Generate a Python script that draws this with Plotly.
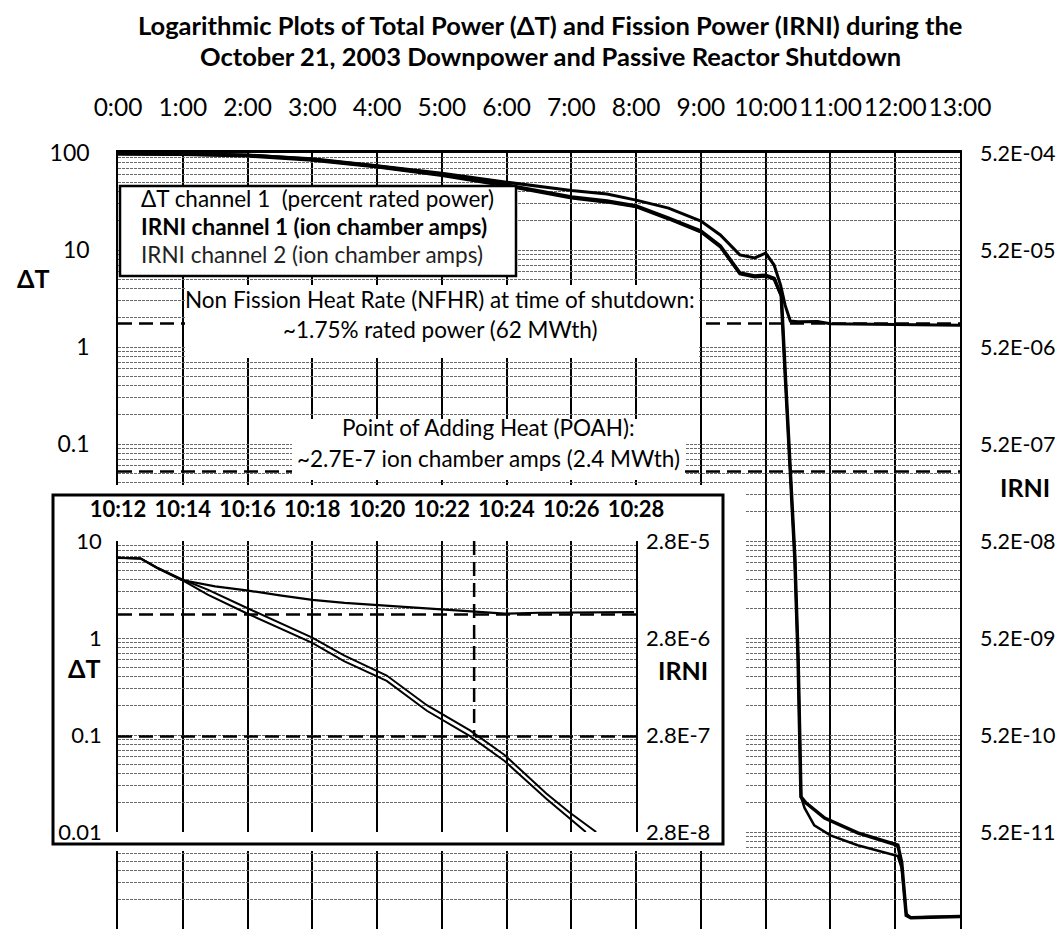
import math
import plotly.graph_objects as go

W, H = 1064, 931
FONT = "Lato, 'Open Sans', sans-serif"

# ---------------- data ----------------
title_lines = ["Logarithmic Plots of Total Power (ΔT) and Fission Power (IRNI) during the",
               "October 21, 2003 Downpower and Passive Reactor Shutdown"]

hour_ticks = list(range(0, 14))
hour_labels = [f"{h}:00" for h in hour_ticks]

# Delta-T channel 1 (percent rated power), time in hours after 0:00
dt_hours = [0.0, 1.0, 2.0, 3.0, 4.0, 5.0, 6.0, 7.0, 7.55, 8.0, 8.5, 9.0, 9.3, 9.6, 9.83,
            10.0, 10.13, 10.23, 10.3, 10.38, 10.5, 10.8, 11.0, 11.5, 12.0, 12.5, 13.0]
dt_pct = [99, 98.5, 95, 87, 74, 62, 50, 41, 37.8, 32.7, 27.0, 19.9, 14.3, 8.9, 8.3,
          9.3, 7.0, 4.35, 2.7, 1.85, 1.82, 1.83, 1.74, 1.72, 1.70, 1.68, 1.68]

# IRNI channel 1 (ion chamber amps)
irni1_hours = [0.0, 1.0, 2.0, 3.0, 4.0, 5.0, 6.0, 7.0, 7.55, 8.0, 8.5, 9.0, 9.3, 9.6, 9.83,
               10.0, 10.13, 10.24, 10.3, 10.37, 10.45, 10.5, 10.545, 10.62, 10.91, 11.42,
               12.04, 12.1, 12.17, 12.24, 12.5, 13.0]
irni1_amps = [5.1e-4, 5.08e-4, 4.94e-4, 4.47e-4, 3.80e-4, 3.12e-4, 2.43e-4, 1.83e-4, 1.66e-4,
              1.48e-4, 1.11e-4, 8.16e-5, 5.72e-5, 3.02e-5, 2.81e-5, 2.86e-5, 2.65e-5, 1.77e-5,
              2.86e-6, 3.17e-7, 3.48e-8, 3.22e-9, 1.2e-10, 1.04e-10, 7.23e-11, 5.1e-11,
              3.8e-11, 2.5e-11, 7.2e-12, 6.8e-12, 6.9e-12, 7.0e-12]

# IRNI channel 2 (ion chamber amps)
irni2_hours = [0.0, 1.0, 2.0, 3.0, 4.0, 5.0, 6.0, 7.0, 7.55, 8.0, 8.5, 9.0, 9.3, 9.6, 9.83,
               10.0, 10.13, 10.24, 10.3, 10.37, 10.45, 10.5, 10.545, 10.6, 10.75, 11.0, 11.42,
               12.04, 12.1, 12.17, 12.24, 12.5, 13.0]
irni2_amps = [5.05e-4, 5.0e-4, 4.8e-4, 4.35e-4, 3.7e-4, 3.03e-4, 2.36e-4, 1.78e-4, 1.61e-4,
              1.44e-4, 1.08e-4, 7.9e-5, 5.55e-5, 2.93e-5, 2.73e-5, 2.78e-5, 2.58e-5, 1.72e-5,
              2.8e-6, 3.1e-7, 3.4e-8, 3.1e-9, 1.2e-10, 9.2e-11, 6.1e-11, 4.8e-11, 3.8e-11,
              2.94e-11, 2.2e-11, 7.5e-12, 6.8e-12, 6.9e-12, 7.0e-12]

nfhr_pct = 1.75          # Non Fission Heat Rate
poah_amps = 2.7e-7       # Point of Adding Heat

dt_label_vals = [100, 10, 1, 0.1]
dt_label_text = ["100", "10", "1", "0.1"]
irni_label_vals = [5.2e-4, 5.2e-5, 5.2e-6, 5.2e-7, 5.2e-8, 5.2e-9, 5.2e-10, 5.2e-11, 5.2e-12]
irni_label_text = ["5.2E-04", "5.2E-05", "5.2E-06", "5.2E-07", "5.2E-08", "5.2E-09",
                   "5.2E-10", "5.2E-11", "5.2E-12"]

legend_lines = ["ΔT channel 1  (percent rated power)",
                "<b>IRNI channel 1 (ion chamber amps)</b>",
                "IRNI channel 2 (ion chamber amps)"]
nfhr_lines = ["Non Fission Heat Rate (NFHR) at time of shutdown:",
              "~1.75% rated power (62 MWth)"]
poah_lines = ["Point of Adding Heat (POAH):",
              "~2.7E-7 ion chamber amps (2.4 MWth)"]

# inset: minutes after 10:00
inset_min_ticks = [12, 14, 16, 18, 20, 22, 24, 26, 28]
inset_tick_labels = [f"10:{m}" for m in inset_min_ticks]
inset_dt_min = [12.0, 12.7, 13.2, 13.97, 15.0, 15.97, 17.0, 18.0, 19.0, 20.0, 21.0, 21.94,
                23.0, 23.94, 25.0, 25.94, 27.0, 27.94]
inset_dt_pct = [6.7, 6.6, 5.3, 3.96, 3.4, 3.1, 2.75, 2.47, 2.3, 2.19, 2.08, 1.99,
                1.88, 1.78, 1.82, 1.84, 1.83, 1.85]
inset_irni1_min = [12.0, 12.7, 13.2, 13.97, 14.77, 15.97, 18.0, 18.98, 20.3, 21.54, 22.86,
                   23.94, 25.23, 25.94, 26.45]
inset_irni1_amps = [1.88e-5, 1.85e-5, 1.48e-5, 1.11e-5, 7.84e-6, 5.04e-6, 2.49e-6, 1.62e-6,
                    1.01e-6, 4.98e-7, 2.74e-7, 1.51e-7, 6.16e-8, 3.92e-8, 2.8e-8]
inset_irni2_min = [12.0, 12.7, 13.2, 13.97, 14.77, 15.97, 18.0, 18.98, 20.3, 21.54, 22.86,
                   23.94, 25.23, 25.94, 26.77]
inset_irni2_amps = [1.88e-5, 1.85e-5, 1.50e-5, 1.13e-5, 8.82e-6, 5.74e-6, 2.83e-6, 1.85e-6,
                    1.15e-6, 5.68e-7, 3.14e-7, 1.74e-7, 7.0e-8, 4.48e-8, 2.8e-8]
inset_dt_label_vals = [10, 1, 0.1, 0.01]
inset_dt_label_text = ["10", "1", "0.1", "0.01"]
inset_irni_label_vals = [2.8e-5, 2.8e-6, 2.8e-7, 2.8e-8]
inset_irni_label_text = ["2.8E-5", "2.8E-6", "2.8E-7", "2.8E-8"]
poah_time_min = 23


# ---------------- helpers ----------------
def px(x):
    return x / W


def py(y):
    return 1 - y / H


def log_grid(lo_exp, hi_exp, labels):
    vals, text = [], []
    for e in range(lo_exp, hi_exp + 1):
        for d in range(1, 10):
            v = d * 10.0 ** e
            if v > 10.0 ** hi_exp * 1.0001:
                break
            vals.append(v)
            lab = ""
            for lv, lt in labels:
                if abs(v - lv) / lv < 1e-6:
                    lab = lt
            text.append(lab)
    return vals, text


GRID = "#6a6a6a"
GRIDDASH = "3px,1px"
DASH = "14px,7px"
TXT_DY = -8   # visual centring correction for annotations

main_grid_vals, main_grid_text = log_grid(-6, 2, list(zip(dt_label_vals, dt_label_text)))
inset_grid_vals, inset_grid_text = log_grid(-2, 1, list(zip(inset_dt_label_vals, inset_dt_label_text)))

fig = go.Figure()

# ---- main traces ----
fig.add_trace(go.Scatter(x=dt_hours, y=dt_pct, mode="lines", xaxis="x", yaxis="y",
                         line=dict(color="black", width=3), name="ΔT channel 1"))
fig.add_trace(go.Scatter(x=irni2_hours, y=irni2_amps, mode="lines", xaxis="x", yaxis="y2",
                         line=dict(color="black", width=2.5), name="IRNI channel 2"))
fig.add_trace(go.Scatter(x=irni1_hours, y=irni1_amps, mode="lines", xaxis="x", yaxis="y2",
                         line=dict(color="black", width=3.5), name="IRNI channel 1"))
fig.add_trace(go.Scatter(x=[hour_ticks[0], hour_ticks[-1]], y=[nfhr_pct, nfhr_pct], mode="lines",
                         xaxis="x", yaxis="y", line=dict(color="black", width=2.5, dash=DASH)))
fig.add_trace(go.Scatter(x=[hour_ticks[0], hour_ticks[-1]], y=[poah_amps, poah_amps], mode="lines",
                         xaxis="x", yaxis="y2", line=dict(color="black", width=2.5, dash=DASH)))

# ---- blank backing subplot for inset ----
fig.add_trace(go.Scatter(x=[None], y=[None], xaxis="x2", yaxis="y3", mode="lines",
                         hoverinfo="skip"))

# ---- inset traces ----
fig.add_trace(go.Scatter(x=[inset_min_ticks[0], inset_min_ticks[-1]], y=[nfhr_pct, nfhr_pct],
                         mode="lines", xaxis="x3", yaxis="y4",
                         line=dict(color="black", width=2.5, dash=DASH)))
fig.add_trace(go.Scatter(x=[inset_min_ticks[0], inset_min_ticks[-1]], y=[poah_amps, poah_amps],
                         mode="lines", xaxis="x3", yaxis="y5",
                         line=dict(color="black", width=2.5, dash=DASH)))
fig.add_trace(go.Scatter(x=[poah_time_min, poah_time_min],
                         y=[inset_irni_label_vals[0], poah_amps],
                         mode="lines", xaxis="x3", yaxis="y5",
                         line=dict(color="black", width=2.5, dash=DASH)))
fig.add_trace(go.Scatter(x=inset_dt_min, y=inset_dt_pct, mode="lines", xaxis="x3", yaxis="y4",
                         line=dict(color="black", width=2.2)))
fig.add_trace(go.Scatter(x=inset_irni1_min, y=inset_irni1_amps, mode="lines", xaxis="x3",
                         yaxis="y5", line=dict(color="black", width=2)))
fig.add_trace(go.Scatter(x=inset_irni2_min, y=inset_irni2_amps, mode="lines", xaxis="x3",
                         yaxis="y5", line=dict(color="black", width=2)))

fig.update_layout(
    template="none",
    width=W, height=H, autosize=False,
    margin=dict(l=0, r=0, t=0, b=0, pad=0),
    paper_bgcolor="white", plot_bgcolor="white",
    showlegend=False,
    font=dict(family=FONT, color="black"),
    xaxis=dict(domain=[px(110), px(952)], range=[0, 13], side="top", anchor="y",
               tickmode="array", tickvals=hour_ticks, ticktext=hour_labels, tickangle=0,
               ticks="", ticklabelstandoff=24, automargin=False,
               tickfont=dict(family=FONT, size=24.5, color="black"),
               showgrid=True, gridcolor="black", gridwidth=1.5,
               showline=True, linecolor="black", linewidth=3, zeroline=False),
    yaxis=dict(domain=[py(921), py(145)], type="log", range=[-6, 2], anchor="x",
               tickmode="array", tickvals=main_grid_vals, ticktext=main_grid_text,
               ticks="", ticklabelstandoff=22, automargin=False,
               tickfont=dict(family=FONT, size=23, color="black"),
               showgrid=True, gridcolor=GRID, gridwidth=1, griddash=GRIDDASH,
               showline=True, mirror=True, linecolor="black", linewidth=1.5, zeroline=False),
    yaxis2=dict(type="log", overlaying="y", side="right", anchor="x",
                range=[math.log10(irni_label_vals[-1]), math.log10(irni_label_vals[0])],
                tickmode="array", tickvals=irni_label_vals, ticktext=irni_label_text,
                ticks="", ticklabelstandoff=19, automargin=False,
                tickfont=dict(family=FONT, size=21.5, color="black"),
                showgrid=False, zeroline=False, showline=False),
    xaxis2=dict(domain=[px(45), px(738)], range=[0, 1], anchor="y3", automargin=False,
                showgrid=False, zeroline=False, showline=False, showticklabels=False, ticks=""),
    yaxis3=dict(domain=[py(843), py(477)], range=[0, 1], anchor="x2", automargin=False,
                showgrid=False, zeroline=False, showline=False, showticklabels=False, ticks=""),
    xaxis3=dict(domain=[px(110), px(628)], range=[inset_min_ticks[0], inset_min_ticks[-1]],
                side="top", anchor="y4", automargin=False,
                tickmode="array", tickvals=inset_min_ticks, ticktext=inset_tick_labels,
                tickangle=0, ticks="", ticklabelstandoff=19,
                tickfont=dict(family=FONT, size=22, color="black", weight="bold"),
                showgrid=True, gridcolor="black", gridwidth=1.5,
                showline=False, zeroline=False),
    yaxis4=dict(domain=[py(824), py(533)], type="log", range=[-2, 1], anchor="x3",
                automargin=False,
                tickmode="array", tickvals=inset_grid_vals, ticktext=inset_grid_text,
                ticks="", ticklabelstandoff=10, tickfont=dict(family=FONT, size=22, color="black"),
                showgrid=True, gridcolor=GRID, gridwidth=1, griddash=GRIDDASH,
                showline=True, mirror=True, linecolor="black", linewidth=1.5, zeroline=False),
    yaxis5=dict(type="log", overlaying="y4", side="right", anchor="x3", automargin=False,
                range=[math.log10(inset_irni_label_vals[-1]), math.log10(inset_irni_label_vals[0])],
                tickmode="array", tickvals=inset_irni_label_vals, ticktext=inset_irni_label_text,
                ticks="", ticklabelstandoff=9, tickfont=dict(family=FONT, size=22, color="black"),
                showgrid=False, zeroline=False, showline=False),
)

shapes = [
    # legend box
    dict(type="rect", xref="paper", yref="paper", x0=px(112), x1=px(508), y0=py(268), y1=py(178),
         fillcolor="white", line=dict(color="black", width=2.5), layer="above"),
    # NFHR text box
    dict(type="rect", xref="paper", yref="paper", x0=px(177), x1=px(691), y0=py(350), y1=py(277),
         fillcolor="white", line=dict(width=0), layer="above"),
    # POAH text box
    dict(type="rect", xref="paper", yref="paper", x0=px(284), x1=px(677), y0=py(472), y1=py(411),
         fillcolor="white", line=dict(width=0), layer="above"),
    # inset frame
    dict(type="rect", xref="paper", yref="paper", x0=px(45), x1=px(715), y0=py(836), y1=py(487),
         fillcolor="rgba(0,0,0,0)", line=dict(color="black", width=3), layer="above"),
]
fig.update_layout(shapes=shapes)

ann = []
for i, line in enumerate(title_lines):
    ann.append(dict(text=f"<b>{line}</b>", x=px(542), y=py([17, 48][i]),
                    xref="paper", yref="paper",
                    showarrow=False, xanchor="center", yanchor="middle",
                    font=dict(family=FONT, size=25.5, color="black")))
for i, line in enumerate(legend_lines):
    ann.append(dict(text=line, x=px(131), y=py([199, 227, 254][i] + TXT_DY), xref="paper", yref="paper",
                    showarrow=False, xanchor="left", yanchor="middle",
                    font=dict(family=FONT, size=22.5, color="#222" if i == 2 else "black")))
for i, line in enumerate(nfhr_lines):
    ann.append(dict(text=line, x=px(432), y=py([299, 329][i] + TXT_DY), xref="paper", yref="paper",
                    showarrow=False, xanchor="center", yanchor="middle",
                    font=dict(family=FONT, size=22.5, color="black")))
for i, line in enumerate(poah_lines):
    ann.append(dict(text=line, x=px(480), y=py([427, 458][i] + TXT_DY), xref="paper", yref="paper",
                    showarrow=False, xanchor="center", yanchor="middle",
                    font=dict(family=FONT, size=22.5, color="black")))
for txt, x, y in [("ΔT", 25, 278), ("IRNI", 1017, 487), ("ΔT", 76, 668), ("IRNI", 675, 670)]:
    ann.append(dict(text=f"<b>{txt}</b>", x=px(x), y=py(y + TXT_DY), xref="paper", yref="paper",
                    showarrow=False, xanchor="center", yanchor="middle",
                    font=dict(family=FONT, size=25, color="black")))
fig.update_layout(annotations=ann)

fig.write_html("out.html")
